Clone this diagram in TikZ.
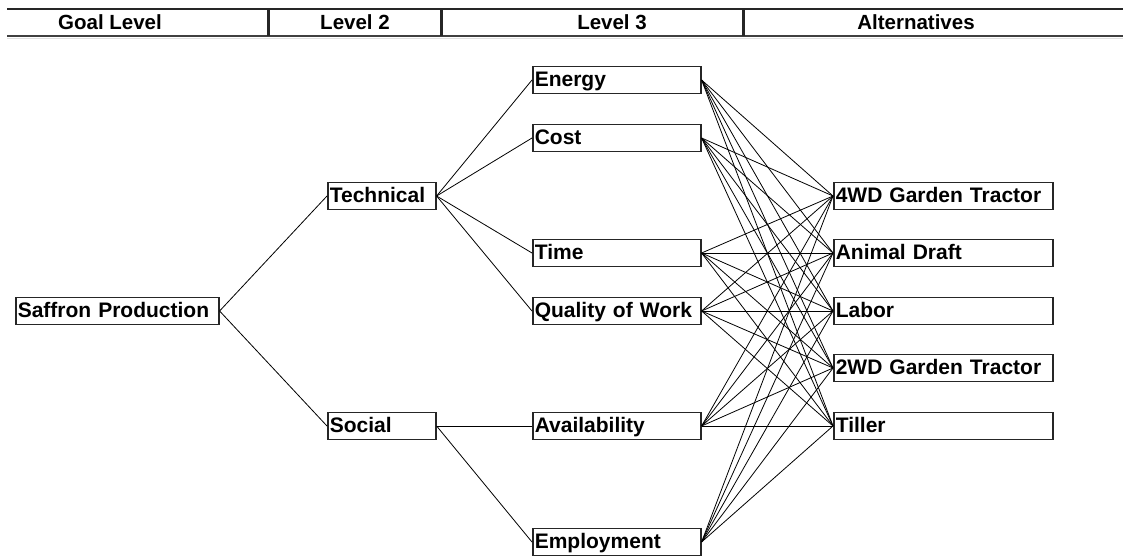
\documentclass[tikz,border=0pt]{standalone}
\usepackage{fontspec}
\setmainfont{Liberation Sans}
\usetikzlibrary{calc}

\begin{document}
\begin{tikzpicture}[x=1pt, y=-1pt]

    \tikzstyle{box}=[draw=black!85, line width=1.6pt, anchor=west, inner xsep=2pt, inner ysep=0pt, minimum height=27pt, text height=16pt, text depth=3pt, align=left, font=\bfseries\fontsize{21}{24}\selectfont];
    \tikzstyle{head}=[font=\bfseries\fontsize{20.5}{24}\selectfont];
    \tikzstyle{link}=[line width=0.8pt];
    \tikzstyle{rule}=[line width=3pt, black!85];

    \useasboundingbox (0,0) rectangle (1123,556);

    % header bar
    \draw[line width=2pt, black!85] (7,9) -- (1123,9);
    \draw[line width=1.3pt, black!75] (7,36) -- (1123,36);
    \draw[line width=1pt, black!12] (7,38.5) -- (1123,38.5);
    \draw[rule] (268,9) -- (268,36);
    \draw[rule] (441,9) -- (441,36);
    \draw[rule] (743,9) -- (743,36);

    \node[head] (hgoal) at (110,22) {Goal Level};
    \node[head] (hlevel2) at (355,22) {Level 2};
    \node[head] (hlevel3) at (612,22) {Level 3};
    \node[head] (halt) at (916,22) {Alternatives};

    % goal and criteria
    \node[box, text width=199pt] (goal) at (15,311) {Saffron Production};
    \node[box, text width=104pt] (tech) at (327,196) {Technical};
    \node[box, text width=104pt] (social) at (327,426) {Social};

    \node[box, text width=164pt] (energy) at (532,80) {Energy};
    \node[box, text width=164pt] (cost) at (532,138) {Cost};
    \node[box, text width=164pt] (time) at (532,253) {Time};
    \node[box, text width=164pt] (quality) at (532,311) {Quality of Work};
    \node[box, text width=164pt] (avail) at (532,426) {Availability};
    \node[box, text width=164pt] (employ) at (532,542) {Employment};

    % alternatives
    \node[box, text width=215pt] (tractor4) at (833,196) {4WD Garden Tractor};
    \node[box, text width=215pt] (draft) at (833,253) {Animal Draft};
    \node[box, text width=215pt] (labor) at (833,311) {Labor};
    \node[box, text width=215pt] (tractor2) at (833,368) {2WD Garden Tractor};
    \node[box, text width=215pt] (tiller) at (833,426) {Tiller};

    \draw[link] (goal.east) -- (tech.west);
    \draw[link] (goal.east) -- (social.west);

    \draw[link] (tech.east) -- (energy.west);
    \draw[link] (tech.east) -- (cost.west);
    \draw[link] (tech.east) -- (time.west);
    \draw[link] (tech.east) -- (quality.west);
    \draw[link] (social.east) -- (avail.west);
    \draw[link] (social.east) -- (employ.west);

    \foreach \c in {energy, cost, time, quality, avail, employ}
        \foreach \a in {tractor4, draft, labor, tractor2, tiller}
            \draw[link] (\c.east) -- (\a.west);
    \end{tikzpicture}
\end{document}
